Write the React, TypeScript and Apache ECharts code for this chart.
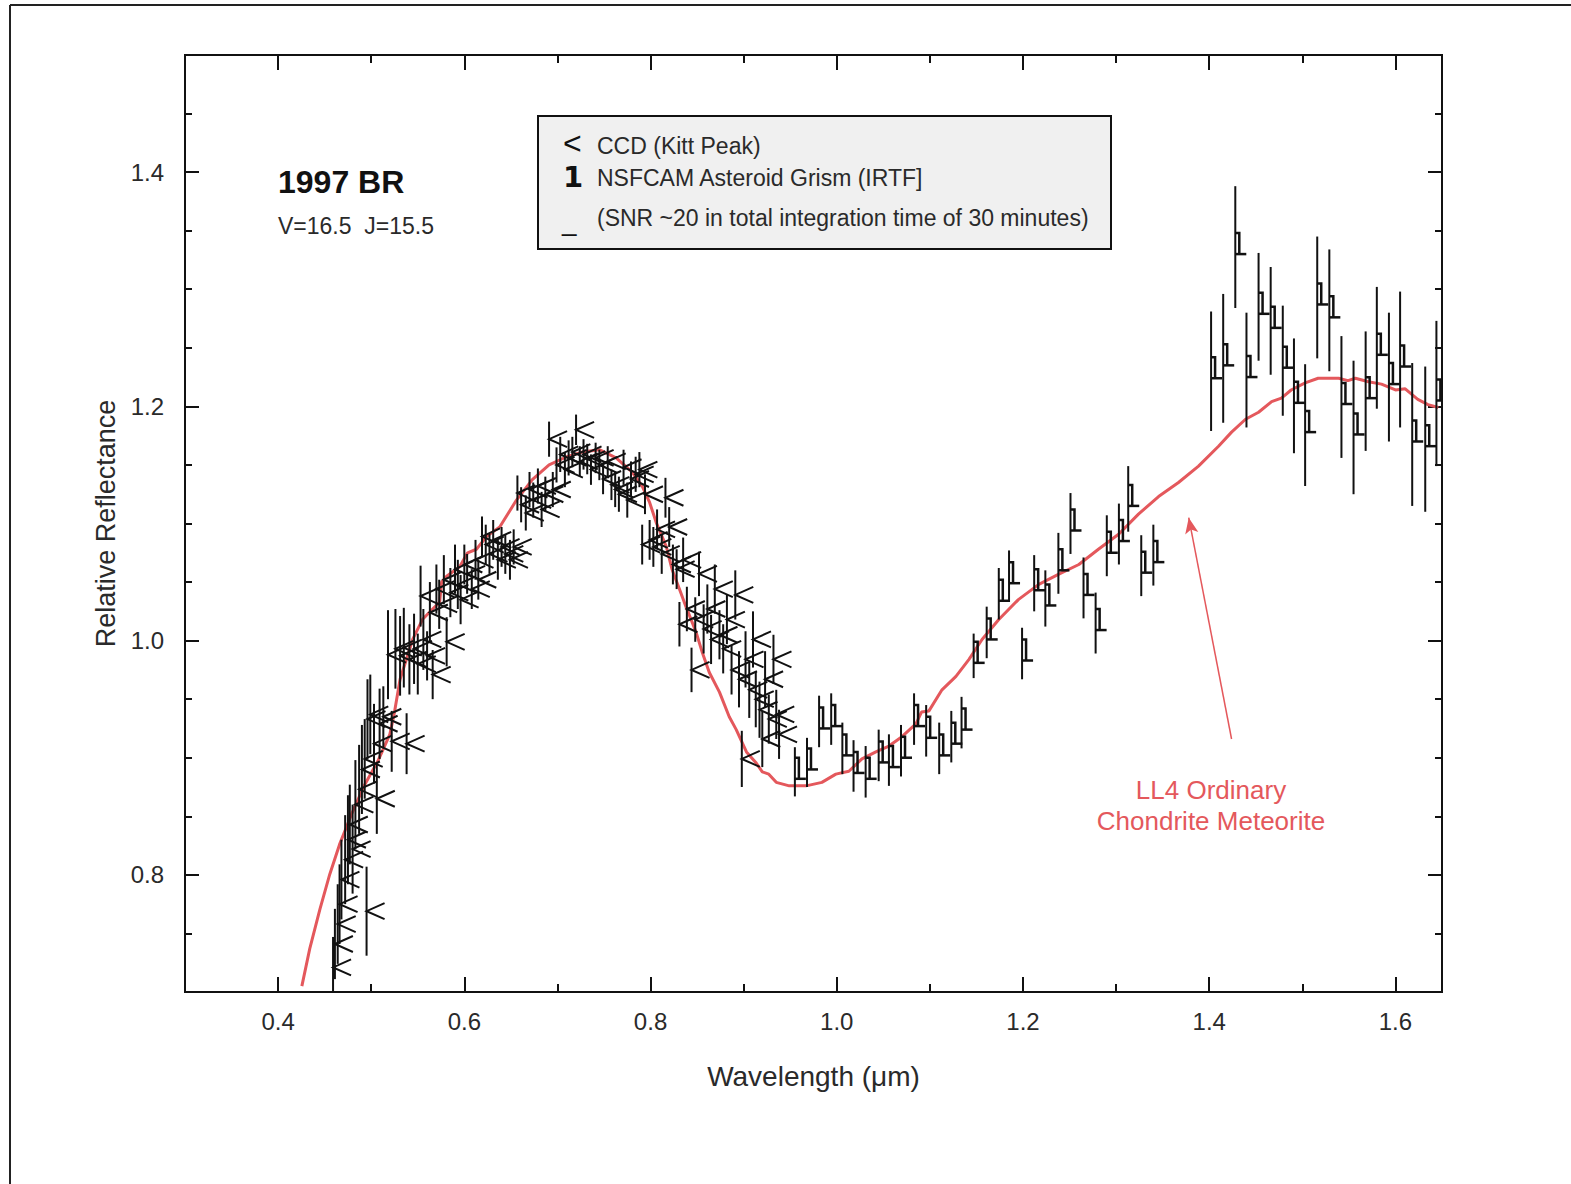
import React, { useEffect, useRef } from "react";
import * as echarts from "echarts";

// Axis tick positions
const xMajor = [0.4, 0.6, 0.8, 1.0, 1.2, 1.4, 1.6];
const xMinor = [0.5, 0.7, 0.9, 1.1, 1.3, 1.5];
const yMajor = [0.8, 1.0, 1.2, 1.4];
const yMinor = [0.75, 0.85, 0.9, 0.95, 1.05, 1.1, 1.15, 1.25, 1.3, 1.35, 1.45];

// CCD (Kitt Peak) spectrum: wavelength (um), relative reflectance, 1-sigma error
const ccdWave = [
  0.459, 0.461, 0.464, 0.466, 0.468, 0.472, 0.475, 0.477, 0.48, 0.483,
  0.487, 0.49, 0.493, 0.495, 0.496, 0.499, 0.503, 0.506, 0.509, 0.513,
  0.518, 0.522, 0.526, 0.531, 0.535, 0.538, 0.541, 0.546, 0.55, 0.553,
  0.556, 0.56, 0.563, 0.566, 0.57, 0.573, 0.578, 0.581, 0.585, 0.59,
  0.593, 0.596, 0.6, 0.603, 0.608, 0.612, 0.615, 0.619, 0.623, 0.627,
  0.631, 0.636, 0.64, 0.644, 0.649, 0.653, 0.657, 0.661, 0.666, 0.67,
  0.674, 0.679, 0.683, 0.687, 0.691, 0.695, 0.699, 0.703, 0.708, 0.712,
  0.716, 0.72, 0.724, 0.728, 0.732, 0.736, 0.741, 0.745, 0.749, 0.754,
  0.758, 0.762, 0.766, 0.771, 0.775, 0.779, 0.784, 0.788, 0.791, 0.794,
  0.799, 0.803, 0.807, 0.812, 0.816, 0.82, 0.824, 0.828, 0.831, 0.835,
  0.839, 0.844, 0.848, 0.852, 0.857, 0.861, 0.865, 0.869, 0.874, 0.878,
  0.882, 0.887, 0.891, 0.895, 0.898, 0.902, 0.906, 0.91, 0.913, 0.917,
  0.92, 0.923, 0.927, 0.932, 0.935, 0.938,
];
const ccdRefl = [
  0.721, 0.741, 0.758, 0.775, 0.796, 0.813, 0.83, 0.843, 0.822, 0.86,
  0.873, 0.89, 0.899, 0.769, 0.933, 0.937, 0.912, 0.865, 0.929, 0.935,
  0.988, 0.914, 0.993, 0.987, 0.994, 0.912, 0.984, 0.993, 0.98, 1.038,
  1.001, 0.987, 1.024, 0.971, 1.044, 1.031, 1.052, 0.999, 1.041, 1.061,
  1.048, 1.035, 1.065, 1.057, 1.044, 1.069, 1.052, 1.089, 1.082, 1.074,
  1.086, 1.069, 1.08, 1.074, 1.069, 1.08, 1.126, 1.116, 1.109, 1.129,
  1.12, 1.132, 1.112, 1.125, 1.172, 1.129, 1.15, 1.159, 1.146, 1.156,
  1.161, 1.18, 1.153, 1.159, 1.155, 1.146, 1.156, 1.15, 1.138, 1.153,
  1.133, 1.129, 1.125, 1.148, 1.12, 1.138, 1.142, 1.146, 1.082, 1.125,
  1.086, 1.08, 1.095, 1.074, 1.122, 1.097, 1.065, 1.061, 1.014, 1.069,
  1.027, 0.975, 1.018, 1.057, 1.01, 1.027, 1.001, 1.044, 1.005, 0.993,
  1.018, 0.975, 1.039, 0.967, 0.899, 0.984, 0.958, 1.001, 0.95, 0.941,
  0.916, 0.967, 0.933, 0.984, 0.937, 0.92,
];
const ccdErr = [
  0.026, 0.03, 0.034, 0.034, 0.034, 0.038, 0.038, 0.034, 0.038, 0.038,
  0.038, 0.038, 0.034, 0.038, 0.034, 0.034, 0.034, 0.03, 0.03, 0.026,
  0.038, 0.026, 0.034, 0.034, 0.034, 0.026, 0.03, 0.03, 0.026, 0.026,
  0.026, 0.021, 0.026, 0.021, 0.021, 0.021, 0.021, 0.021, 0.021, 0.021,
  0.021, 0.021, 0.017, 0.017, 0.017, 0.017, 0.017, 0.017, 0.017, 0.017,
  0.017, 0.017, 0.017, 0.017, 0.017, 0.015, 0.015, 0.015, 0.015, 0.015,
  0.015, 0.015, 0.015, 0.015, 0.015, 0.015, 0.015, 0.015, 0.015, 0.015,
  0.013, 0.013, 0.013, 0.013, 0.013, 0.013, 0.013, 0.013, 0.013, 0.013,
  0.013, 0.015, 0.015, 0.015, 0.015, 0.015, 0.015, 0.015, 0.017, 0.017,
  0.017, 0.017, 0.017, 0.017, 0.017, 0.017, 0.017, 0.017, 0.019, 0.019,
  0.019, 0.019, 0.019, 0.019, 0.021, 0.021, 0.021, 0.021, 0.021, 0.021,
  0.021, 0.021, 0.021, 0.024, 0.024, 0.024, 0.024, 0.024, 0.024, 0.024,
  0.024, 0.024, 0.021, 0.021, 0.021, 0.021,
];

// NSFCAM asteroid grism (IRTF) spectrum
const irtfWave = [
  0.955, 0.968, 0.981, 0.994, 1.006, 1.018, 1.031, 1.045, 1.056, 1.069,
  1.083, 1.096, 1.11, 1.123, 1.134, 1.147, 1.161, 1.174, 1.185, 1.199,
  1.212, 1.224, 1.238, 1.251, 1.265, 1.278, 1.29, 1.303, 1.313, 1.327,
  1.34, 1.402, 1.415, 1.428, 1.44, 1.453, 1.466, 1.479, 1.491, 1.503,
  1.516, 1.529, 1.542, 1.555, 1.568, 1.58, 1.593, 1.605, 1.618, 1.632,
  1.644,
];
const irtfRefl = [
  0.888, 0.896, 0.931, 0.933, 0.908, 0.893, 0.888, 0.902, 0.898, 0.906,
  0.933, 0.923, 0.908, 0.918, 0.93, 0.987, 1.007, 1.04, 1.055, 0.989,
  1.049, 1.036, 1.066, 1.1, 1.045, 1.015, 1.081, 1.091, 1.121, 1.064,
  1.073, 1.23, 1.241, 1.336, 1.231, 1.285, 1.273, 1.239, 1.209, 1.184,
  1.293, 1.282, 1.208, 1.182, 1.213, 1.25, 1.225, 1.24, 1.176, 1.172,
  1.211,
];
const irtfErr = [
  0.021, 0.021, 0.022, 0.022, 0.022, 0.022, 0.022, 0.022, 0.022, 0.022,
  0.022, 0.022, 0.022, 0.022, 0.022, 0.019, 0.022, 0.022, 0.022, 0.022,
  0.024, 0.024, 0.026, 0.026, 0.026, 0.026, 0.026, 0.026, 0.028, 0.026,
  0.026, 0.051, 0.055, 0.052, 0.049, 0.046, 0.046, 0.047, 0.049, 0.052,
  0.052, 0.052, 0.052, 0.057, 0.051, 0.052, 0.055, 0.058, 0.061, 0.062,
  0.062,
];

// LL4 ordinary chondrite meteorite reflectance
const ll4Wave = [
  0.4255, 0.434, 0.445, 0.4555, 0.466, 0.479, 0.493, 0.507, 0.52, 0.525,
  0.531, 0.5445, 0.555, 0.566, 0.5735, 0.5756, 0.581, 0.595, 0.6035, 0.613,
  0.624, 0.638, 0.656, 0.673, 0.691, 0.71, 0.727, 0.745, 0.763, 0.78,
  0.791, 0.799, 0.806, 0.817, 0.823, 0.831, 0.838, 0.849, 0.8555, 0.863,
  0.874, 0.8845, 0.892, 0.903, 0.913, 0.92, 0.927, 0.935, 0.949, 0.967,
  0.984, 0.999, 1.013, 1.027, 1.042, 1.056, 1.07, 1.085, 1.091, 1.099,
  1.113, 1.128, 1.142, 1.156, 1.174, 1.195, 1.217, 1.238, 1.26, 1.281,
  1.303, 1.324, 1.3456, 1.367, 1.3885, 1.41, 1.424, 1.439, 1.453, 1.467,
  1.4775, 1.488, 1.503, 1.517, 1.539, 1.549, 1.557, 1.571, 1.585, 1.6,
  1.6105, 1.624, 1.635, 1.646,
];
const ll4Refl = [
  0.705, 0.737, 0.771, 0.8006, 0.826, 0.852, 0.877, 0.897, 0.92, 0.939,
  0.967, 1.001, 1.018, 1.027, 1.033, 1.05, 1.055, 1.063, 1.075, 1.078,
  1.089, 1.097, 1.12, 1.1375, 1.15, 1.157, 1.161, 1.163, 1.156, 1.144,
  1.132, 1.118, 1.101, 1.08, 1.061, 1.044, 1.029, 1.007, 0.99, 0.973,
  0.956, 0.935, 0.924, 0.905, 0.896, 0.888, 0.886, 0.879, 0.876, 0.876,
  0.879, 0.886, 0.8885, 0.899, 0.905, 0.91, 0.918, 0.929, 0.939, 0.94,
  0.958, 0.9695, 0.984, 1.001, 1.018, 1.035, 1.048, 1.0565, 1.065, 1.078,
  1.091, 1.108, 1.123, 1.135, 1.149, 1.166, 1.178, 1.189, 1.195, 1.204,
  1.207, 1.214, 1.22, 1.224, 1.224, 1.222, 1.224, 1.221, 1.219, 1.214,
  1.215, 1.206, 1.2015, 1.199,
];

// Arrow pointing from the label to the meteorite curve
const arrowFrom = [1.424, 0.916];
const arrowTo = [1.378, 1.105];

const FONT = "'Liberation Sans', Arial, sans-serif";
const INK = "#111";
const RED = "#e4585c";

function clip(cs: any) {
  return { type: "rect", shape: { x: cs.x, y: cs.y, width: cs.width, height: cs.height } };
}

function errorBar(api: any, cs: any, x: number, y: number, e: number) {
  const hi = api.coord([x, y + e]);
  const lo = api.coord([x, y - e]);
  return {
    type: "line",
    shape: { x1: hi[0], y1: Math.max(cs.y, hi[1]), x2: lo[0], y2: Math.min(cs.y + cs.height, lo[1]) },
    style: { stroke: INK, lineWidth: 2 },
  };
}

function renderCcd(params: any, api: any) {
  const cs = params.coordSys;
  const x = api.value(0), y = api.value(1), e = api.value(2);
  const p = api.coord([x, y]);
  return {
    type: "group",
    clipPath: clip(cs),
    children: [
      errorBar(api, cs, x, y, e),
      {
        type: "polyline",
        shape: { points: [[p[0] + 18, p[1] - 8], [p[0], p[1]], [p[0] + 18, p[1] + 8]] },
        style: { stroke: INK, fill: null, lineWidth: 2 },
      },
    ],
  };
}

function renderIrtf(params: any, api: any) {
  const cs = params.coordSys;
  const x = api.value(0), y = api.value(1), e = api.value(2);
  const p = api.coord([x, y]);
  return {
    type: "group",
    clipPath: clip(cs),
    children: [
      errorBar(api, cs, x, y, e),
      {
        type: "polyline",
        shape: { points: [[p[0], p[1] - 14], [p[0] + 4, p[1] - 14], [p[0] + 4, p[1] + 7]] },
        style: { stroke: INK, fill: null, lineWidth: 2.5 },
      },
      {
        type: "line",
        shape: { x1: p[0], y1: p[1] + 7, x2: p[0] + 11, y2: p[1] + 7 },
        style: { stroke: INK, lineWidth: 2.5 },
      },
    ],
  };
}

const fmt = (v: number) => v.toFixed(1);

function xAx(position: string, ticks: number[], len: number, labels: boolean, extra: any = {}) {
  return {
    type: "value",
    position,
    min: 0.3,
    max: 1.65,
    gridIndex: 0,
    axisLine: { show: true, onZero: false, lineStyle: { color: INK, width: 2 } },
    axisTick: { show: true, inside: true, length: len, customValues: ticks, lineStyle: { color: INK, width: 2 } },
    axisLabel: labels
      ? { show: true, customValues: xMajor, formatter: fmt, margin: 17, fontFamily: FONT, fontSize: 24, color: "#2a2a2a" }
      : { show: false },
    splitLine: { show: false },
    ...extra,
  };
}

function yAx(position: string, ticks: number[], len: number, labels: boolean, extra: any = {}) {
  return {
    type: "value",
    position,
    min: 0.7,
    max: 1.5,
    gridIndex: 0,
    axisLine: { show: true, onZero: false, lineStyle: { color: INK, width: 2 } },
    axisTick: { show: true, inside: true, length: len, customValues: ticks, lineStyle: { color: INK, width: 2 } },
    axisLabel: labels
      ? { show: true, customValues: yMajor, formatter: fmt, margin: 21, fontFamily: FONT, fontSize: 24, color: "#2a2a2a" }
      : { show: false },
    splitLine: { show: false },
    ...extra,
  };
}

export default function App() {
  const ref = useRef<HTMLDivElement>(null);

  useEffect(() => {
    if (!ref.current) return;
    const chart = echarts.init(ref.current, undefined, { renderer: "svg" });

    const ccdData = ccdWave.map((w, i) => [w, ccdRefl[i], ccdErr[i]]);
    const irtfData = irtfWave.map((w, i) => [w, irtfRefl[i], irtfErr[i]]);
    const ll4Data = ll4Wave.map((w, i) => [w, ll4Refl[i]]);

    chart.setOption({
      animation: false,
      backgroundColor: "#fff",
      grid: { left: 185, top: 55, right: 129, bottom: 192, containLabel: false },
      xAxis: [
        xAx("bottom", xMajor, 15, true, {
          name: "Wavelength (μm)",
          nameLocation: "middle",
          nameGap: 70,
          nameTextStyle: { fontFamily: FONT, fontSize: 28, color: "#2a2a2a" },
        }),
        xAx("bottom", xMinor, 8, false),
        xAx("top", xMajor, 15, false),
        xAx("top", xMinor, 8, false),
      ],
      yAxis: [
        yAx("left", yMajor, 14, true, {
          name: "Relative Reflectance",
          nameLocation: "middle",
          nameGap: 60,
          nameRotate: 90,
          nameTextStyle: { fontFamily: FONT, fontSize: 27, color: "#2a2a2a" },
        }),
        yAx("left", yMinor, 7, false),
        yAx("right", yMajor, 14, false),
        yAx("right", yMinor, 7, false),
      ],
      series: [
        {
          name: "LL4 Ordinary Chondrite Meteorite",
          type: "line",
          data: ll4Data,
          xAxisIndex: 0,
          yAxisIndex: 0,
          showSymbol: false,
          smooth: false,
          clip: true,
          z: 1,
          lineStyle: { color: RED, width: 3 },
          markLine: {
            silent: true,
            symbol: ["none", "arrow"],
            symbolSize: [10, 16],
            label: { show: false },
            lineStyle: { color: RED, width: 1.5, type: "solid" },
            data: [[{ coord: arrowFrom }, { coord: arrowTo }]],
          },
        },
        {
          name: "CCD (Kitt Peak)",
          type: "custom",
          xAxisIndex: 0,
          yAxisIndex: 0,
          data: ccdData,
          encode: { x: 0, y: 1 },
          renderItem: renderCcd,
          z: 3,
        },
        {
          name: "NSFCAM Asteroid Grism (IRTF)",
          type: "custom",
          xAxisIndex: 0,
          yAxisIndex: 0,
          data: irtfData,
          encode: { x: 0, y: 1 },
          renderItem: renderIrtf,
          z: 3,
        },
      ],
      graphic: [
        // outer frame
        { type: "line", shape: { x1: 10, y1: 5, x2: 1571, y2: 5 }, style: { stroke: "#222", lineWidth: 2 } },
        { type: "line", shape: { x1: 10, y1: 5, x2: 10, y2: 1184 }, style: { stroke: "#222", lineWidth: 2 } },
        // object name
        {
          type: "text",
          x: 278,
          y: 182,
          style: { text: "1997 BR", font: `bold 32px ${FONT}`, fill: "#111", verticalAlign: "middle" },
        },
        {
          type: "text",
          x: 278,
          y: 226,
          style: { text: "V=16.5  J=15.5", font: `23px ${FONT}`, fill: "#2a2a2a", verticalAlign: "middle" },
        },
        // legend box
        {
          type: "rect",
          shape: { x: 538, y: 116, width: 573, height: 133 },
          style: { fill: "#f0f0f0", stroke: "#111", lineWidth: 2 },
          z: 10,
        },
        {
          type: "text", x: 563, y: 143, z: 11,
          style: { text: "<", font: `32px ${FONT}`, fill: "#111", verticalAlign: "middle" },
        },
        {
          type: "text", x: 563, y: 177, z: 11,
          style: { text: "1", font: `bold 29px 'DejaVu Sans', sans-serif`, fill: "#111", verticalAlign: "middle" },
        },
        {
          type: "text", x: 562, y: 222, z: 11,
          style: { text: "_", font: `26px ${FONT}`, fill: "#111", verticalAlign: "middle" },
        },
        {
          type: "text", x: 597, y: 146, z: 11,
          style: { text: "CCD (Kitt Peak)", font: `23px ${FONT}`, fill: "#2a2a2a", verticalAlign: "middle" },
        },
        {
          type: "text", x: 597, y: 178, z: 11,
          style: { text: "NSFCAM Asteroid Grism (IRTF]", font: `23px ${FONT}`, fill: "#2a2a2a", verticalAlign: "middle" },
        },
        {
          type: "text", x: 597, y: 218, z: 11,
          style: {
            text: "(SNR ~20 in total integration time of 30 minutes)",
            font: `23px ${FONT}`,
            fill: "#2a2a2a",
            verticalAlign: "middle",
          },
        },
        // curve label
        {
          type: "text", x: 1211, y: 790,
          style: { text: "LL4 Ordinary", font: `26px ${FONT}`, fill: RED, align: "center", verticalAlign: "middle" },
        },
        {
          type: "text", x: 1211, y: 821,
          style: { text: "Chondrite Meteorite", font: `26px ${FONT}`, fill: RED, align: "center", verticalAlign: "middle" },
        },
      ],
    });

    return () => chart.dispose();
  }, []);

  return (
    <div
      ref={ref}
      style={{ position: "absolute", left: 0, top: 0, width: 1571, height: 1184, background: "#fff" }}
    />
  );
}
